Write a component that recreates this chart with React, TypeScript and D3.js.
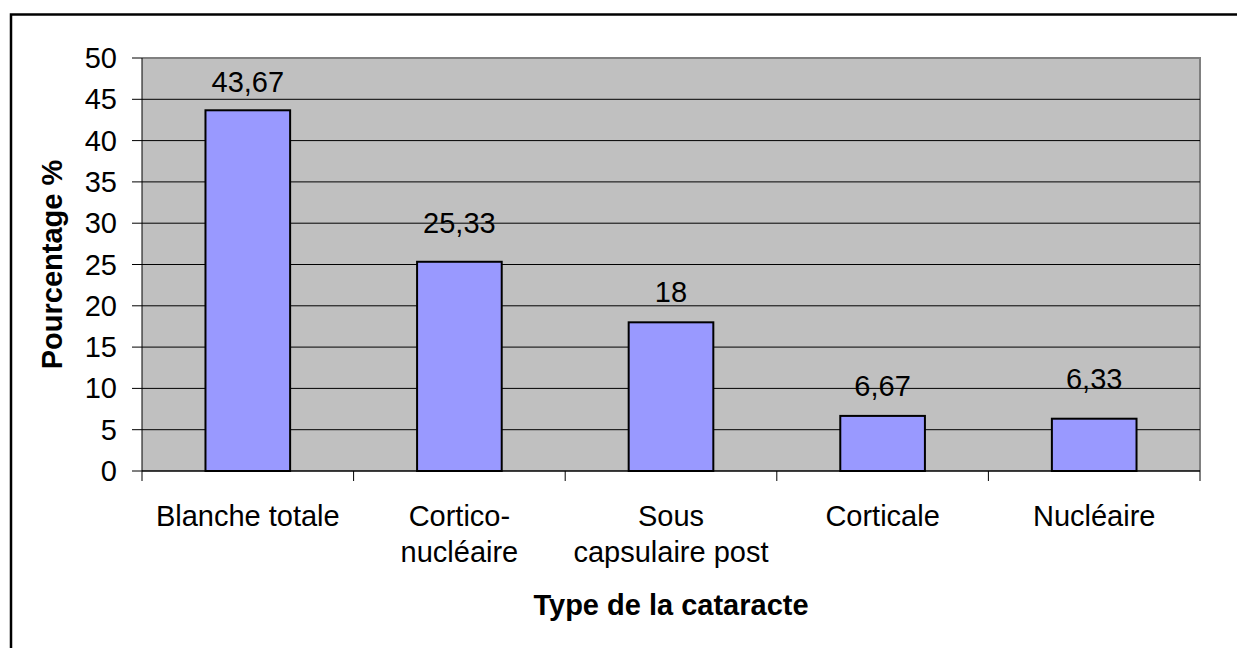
import React from "react";
import * as d3 from "d3";

// chart data
const categories = [
  ["Blanche totale"],
  ["Cortico-", "nucléaire"],
  ["Sous", "capsulaire post"],
  ["Corticale"],
  ["Nucléaire"],
];
const values = [43.67, 25.33, 18, 6.67, 6.33];
const valueLabels = ["43,67", "25,33", "18", "6,67", "6,33"];
const yTicks = [0, 5, 10, 15, 20, 25, 30, 35, 40, 45, 50];

// excel-ish placement of the value labels (px above bar top)
const labelGap = [18, 29, 20, 20, 30];

const W = 1237;
const H = 648;
const plot = { left: 142, right: 1200, top: 58, bottom: 471 };
const font = "Arial, 'Liberation Sans', sans-serif";
const fs = 29;

const App = () => {
  const x = d3
    .scaleBand()
    .domain(values.map((_, i) => String(i)))
    .range([plot.left, plot.right])
    .paddingInner(0.6)
    .paddingOuter(0.3);

  const step = (plot.right - plot.left) / values.length;

  const y = d3.scaleLinear().domain([0, 50]).range([plot.bottom, plot.top]);

  return (
    <svg
      width={W}
      height={H}
      style={{ position: "absolute", left: 0, top: 0, background: "#fff" }}
      fontFamily={font}
    >
      {/* outer frame, only top & left fall inside the picture */}
      <rect x={11} y={14.5} width={W + 20} height={H + 20} fill="none" stroke="#000" strokeWidth={2.5} />

      <rect
        x={plot.left}
        y={plot.top}
        width={plot.right - plot.left}
        height={plot.bottom - plot.top}
        fill="#C0C0C0"
      />
      <path
        d={`M${plot.left},${plot.top}H${plot.right}V${plot.bottom}`}
        fill="none"
        stroke="#808080"
        strokeWidth={2}
      />

      {/* gridlines + y ticks */}
      {yTicks.map((t) => (
        <g key={t}>
          {t > 0 && t < 50 && (
            <line x1={plot.left} x2={plot.right} y1={y(t)} y2={y(t)} stroke="#000" strokeWidth={1} />
          )}
          <line x1={plot.left - 10} x2={plot.left} y1={y(t)} y2={y(t)} stroke="#000" strokeWidth={1} />
          <text
            x={117}
            y={y(t)}
            textAnchor="end"
            dominantBaseline="central"
            fontSize={fs}
            fill="#000"
          >
            {t}
          </text>
        </g>
      ))}

      {/* bars */}
      {values.map((v, i) => (
        <rect
          key={i}
          x={x(String(i))}
          y={y(v)}
          width={x.bandwidth()}
          height={y(0) - y(v)}
          fill="#9999FF"
          stroke="#000"
          strokeWidth={2}
        />
      ))}

      {/* value labels */}
      {values.map((v, i) => (
        <text
          key={i}
          x={x(String(i)) + x.bandwidth() / 2}
          y={y(v) - labelGap[i]}
          textAnchor="middle"
          fontSize={fs}
          fill="#000"
        >
          {valueLabels[i]}
        </text>
      ))}

      {/* axes */}
      <line x1={plot.left} x2={plot.left} y1={plot.top} y2={plot.bottom} stroke="#000" strokeWidth={1} />
      <line x1={plot.left} x2={plot.right} y1={plot.bottom} y2={plot.bottom} stroke="#000" strokeWidth={1.5} />
      {d3.range(values.length + 1).map((i) => (
        <line
          key={i}
          x1={plot.left + i * step}
          x2={plot.left + i * step}
          y1={plot.bottom}
          y2={plot.bottom + 10}
          stroke="#000"
          strokeWidth={1}
        />
      ))}

      {/* category labels */}
      {categories.map((lines, i) => (
        <text
          key={i}
          x={x(String(i)) + x.bandwidth() / 2}
          y={526}
          textAnchor="middle"
          fontSize={fs}
          fill="#000"
        >
          {lines.map((l, j) => (
            <tspan key={j} x={x(String(i)) + x.bandwidth() / 2} dy={j === 0 ? 0 : 36}>
              {l}
            </tspan>
          ))}
        </text>
      ))}

      {/* axis titles */}
      <text
        x={(plot.left + plot.right) / 2}
        y={615}
        textAnchor="middle"
        fontSize={fs}
        fontWeight="bold"
        fill="#000"
      >
        Type de la cataracte
      </text>
      <text
        transform={`translate(62,${(plot.top + plot.bottom) / 2}) rotate(-90)`}
        textAnchor="middle"
        fontSize={fs}
        fontWeight="bold"
        fill="#000"
      >
        Pourcentage %
      </text>
    </svg>
  );
};

export default App;
